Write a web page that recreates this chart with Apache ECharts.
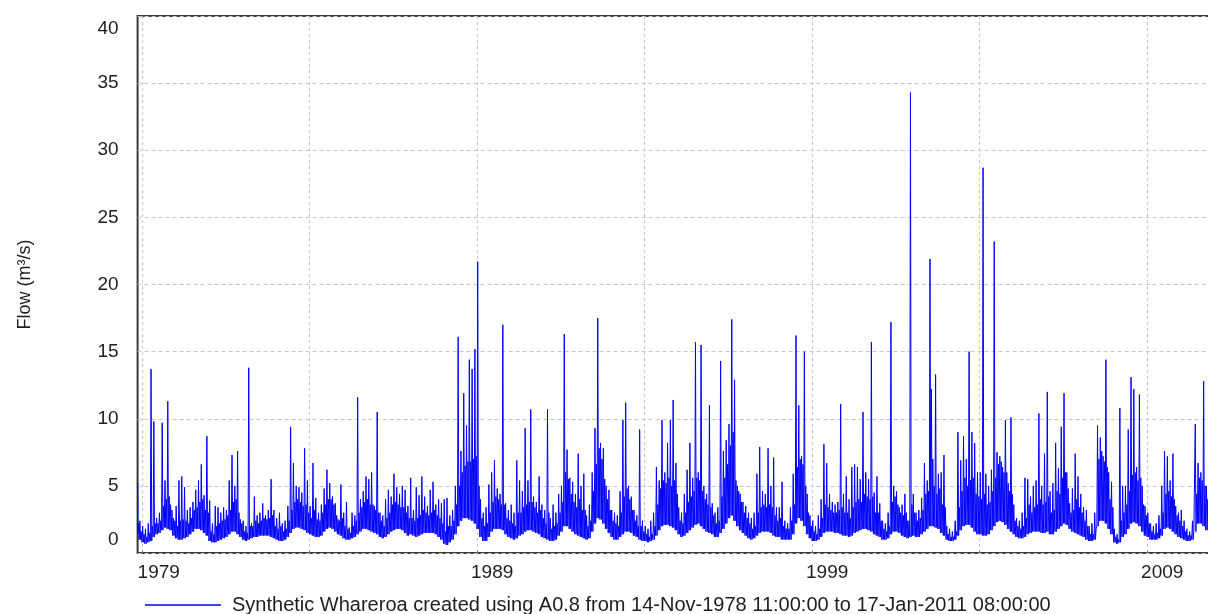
<!DOCTYPE html>
<html>
<head>
<meta charset="utf-8">
<title>Synthetic Whareroa flow</title>
<script src="https://cdn.jsdelivr.net/npm/echarts@6/dist/echarts.min.js"></script>
<style>
  html, body { margin: 0; padding: 0; background: #ffffff; overflow: hidden; }
  /* the record runs on a few pixels past the right edge of the page */
  #wrap { width: 1208px; height: 614px; overflow: hidden; }
  #chart { width: 1216px; height: 614px; }
</style>
</head>
<body>
<div id="wrap"><div id="chart"></div></div>
<script>
// Monthly flow summaries (m³/s): for each month a trough ("low"), a secondary
// rise ("mid") and the month's highest peak ("peak").
// Block A: Nov-1978 .. Dec-1988
const lowA = [
  1.4,1.0,
  0.8,0.7,0.8,0.9,1.2,1.4,1.5,1.7,1.9,1.8,1.7,1.3,
  1.1,1.0,1.0,1.1,1.2,1.4,1.6,1.8,1.8,1.7,1.5,1.3,
  0.9,0.8,0.8,0.9,1.0,1.1,1.2,1.4,1.6,1.6,1.4,1.2,
  1.0,0.9,1.0,1.1,1.2,1.2,1.3,1.3,1.3,1.3,1.2,1.1,
  1.0,0.9,0.9,1.0,1.2,1.5,1.8,1.9,1.9,1.8,1.7,1.5,
  1.4,1.3,1.2,1.2,1.3,1.6,1.8,1.9,1.8,1.6,1.4,1.3,
  1.1,1.0,1.0,1.1,1.2,1.4,1.6,1.8,1.8,1.7,1.6,1.5,
  1.4,1.2,1.1,1.2,1.4,1.6,1.7,1.8,1.8,1.7,1.5,1.3,
  1.4,1.3,1.2,1.3,1.4,1.5,1.5,1.5,1.5,1.4,1.2,1.0,
  0.7,0.6,0.8,1.0,1.4,2.0,2.4,2.6,2.6,2.5,2.4,2.2
];
const midA = [
  2.2,1.6,
  1.4,1.2,1.5,2.0,2.2,2.2,2.4,3.5,4.0,4.2,3.2,2.4,
  2.0,2.4,2.5,2.4,2.2,2.6,3.2,3.4,3.8,4.0,3.2,3.0,
  1.6,1.4,2.0,2.2,2.4,2.5,2.8,3.2,3.8,4.0,3.0,2.2,
  1.6,1.5,2.0,2.0,2.4,2.2,2.4,2.6,2.5,2.6,2.8,2.0,
  1.8,2.0,1.6,1.8,2.4,3.2,3.8,4.0,3.8,3.5,3.6,3.0,
  2.6,3.2,2.5,2.4,3.0,3.6,4.0,4.0,3.6,2.8,2.4,2.6,
  2.0,1.8,1.5,2.0,2.4,3.0,3.4,3.8,4.0,3.6,3.6,3.2,
  3.0,2.4,2.0,2.6,3.0,3.6,3.8,3.6,3.4,3.4,3.0,2.6,
  2.6,2.4,2.6,2.8,3.2,3.0,2.8,3.0,3.2,2.8,2.6,2.2,
  1.6,2.0,2.0,2.4,3.6,5.0,6.0,6.5,6.8,6.8,7.0,7.2
];
const peakA = [
  5.2,2.4,
  2.0,1.8,2.2,13.7,9.8,2.6,3.0,9.7,5.4,11.3,3.6,2.6,
  3.5,5.4,5.7,4.9,3.2,3.4,3.8,4.7,5.4,6.6,4.3,8.7,
  3.9,2.2,3.5,3.4,3.0,3.4,3.2,5.4,7.3,5.0,7.6,2.5,
  2.4,2.0,13.8,2.2,4.2,2.8,3.0,3.7,2.8,3.2,5.5,3.2,
  2.6,3.0,2.2,2.4,3.5,9.4,6.7,5.0,4.9,4.5,7.8,5.4,
  3.5,6.7,4.1,3.0,3.6,4.8,6.2,5.2,4.2,3.7,2.5,5.1,
  3.0,3.8,1.9,3.0,2.8,11.6,4.0,4.6,5.7,5.5,6.0,3.5,
  10.5,3.0,2.8,4.0,4.7,4.2,5.9,4.9,4.4,5.0,4.7,3.5,
  5.6,3.2,4.9,4.3,5.7,4.2,3.5,4.7,5.3,3.6,4.0,3.7,
  4.0,4.1,2.8,3.2,5.0,16.1,7.6,11.9,9.5,14.4,13.7,15.2
];

// Block B: Jan-1989 .. Dec-1999
const lowB = [
  1.8,1.2,0.9,0.9,1.2,1.6,1.8,1.8,1.8,1.7,1.4,1.2,
  1.1,1.0,1.1,1.3,1.4,1.6,1.7,1.7,1.6,1.5,1.4,1.2,
  1.1,1.0,0.9,0.9,1.0,1.3,1.6,2.0,2.0,1.8,1.6,1.4,
  1.3,1.2,1.1,1.0,1.1,1.6,2.2,2.6,2.5,2.2,1.8,1.5,
  1.2,1.0,1.0,1.2,1.4,1.6,1.6,1.5,1.3,1.2,1.0,0.9,
  0.9,0.8,0.9,1.0,1.3,1.7,2.0,2.1,2.1,2.0,1.9,1.7,
  1.4,1.2,1.3,1.5,1.7,1.9,2.1,2.2,2.0,1.8,1.6,1.5,
  1.4,1.2,1.2,1.5,1.8,2.2,2.6,2.8,2.4,2.0,1.7,1.5,
  1.3,1.1,1.0,1.1,1.3,1.5,1.6,1.6,1.6,1.5,1.3,1.2,
  1.2,1.0,1.0,1.0,1.0,1.4,2.2,2.6,2.4,2.0,1.4,1.1,
  0.9,0.9,1.0,1.2,1.5,1.6,1.6,1.6,1.5,1.5,1.4,1.3
];
const midB = [
  5.0,2.6,2.0,2.2,3.0,3.8,4.2,4.0,3.6,3.6,2.6,2.4,
  2.2,2.0,3.0,3.0,3.4,3.6,3.8,3.8,3.4,3.0,3.2,2.6,
  2.2,3.0,1.8,2.0,2.2,3.0,3.8,6.0,5.5,4.4,3.8,3.4,
  4.0,3.2,3.2,2.0,2.4,4.6,6.6,7.8,7.0,5.5,4.0,3.2,
  2.4,2.2,2.0,3.0,4.2,4.8,4.0,3.2,2.4,2.0,2.0,1.6,
  1.4,1.2,1.4,2.0,3.6,4.8,5.4,5.2,5.6,5.0,5.4,4.4,
  2.4,2.2,3.0,3.8,4.2,4.6,5.6,5.4,4.6,4.0,3.6,3.4,
  2.8,2.2,2.4,4.2,5.6,6.6,8.0,9.0,5.4,4.6,3.8,3.0,
  2.6,2.2,1.8,2.0,3.0,3.4,3.6,3.4,3.6,3.4,2.8,2.4,
  2.6,2.0,1.8,1.8,2.4,3.6,6.4,7.0,6.6,5.0,3.0,2.0,
  1.6,1.4,1.8,2.6,3.6,3.4,3.2,3.0,3.0,3.2,3.4,3.0
];
const peakB = [
  21.7,4.0,3.0,3.4,5.1,6.0,6.9,4.8,4.4,17.0,3.7,3.2,
  3.6,3.0,6.9,5.4,4.6,9.3,5.4,10.7,4.2,3.8,5.7,3.6,
  3.2,10.7,2.6,3.6,3.0,4.4,5.0,16.3,7.7,5.6,5.3,4.4,
  7.4,5.0,5.9,2.8,3.6,6.0,9.3,17.5,8.2,7.8,5.0,4.7,
  3.2,3.0,2.8,4.6,9.9,11.2,5.0,4.2,3.2,2.8,9.2,2.4,
  2.0,1.8,2.4,3.0,6.4,5.4,9.9,6.0,8.2,9.9,11.4,6.7,
  3.4,3.0,4.4,6.2,8.2,5.6,15.7,6.0,15.5,5.0,4.4,11.0,
  3.7,3.0,3.4,14.3,7.6,8.4,9.6,17.4,12.9,5.0,4.4,3.8,
  3.5,3.0,2.6,3.0,5.9,7.9,4.6,4.4,7.8,5.0,7.1,3.4,
  3.4,5.3,2.4,2.2,3.4,5.9,16.2,11.0,7.2,15.0,4.4,2.8,
  2.4,2.0,2.8,4.0,8.1,6.7,4.4,3.8,3.6,3.8,11.1,4.4
];

// Block C: Jan-2000 .. Jan-2011
const lowC = [
  1.3,1.2,1.3,1.5,1.6,1.7,1.8,1.8,1.7,1.6,1.4,1.3,
  1.2,1.0,1.0,1.1,1.4,1.6,1.6,1.5,1.3,1.2,1.1,1.2,
  1.3,1.2,1.2,1.4,1.6,1.8,2.0,2.0,1.9,1.8,1.5,1.3,
  1.0,0.9,0.9,1.0,1.3,1.7,2.0,2.1,2.1,1.9,1.6,1.4,
  1.4,1.3,1.3,1.4,1.7,2.0,2.3,2.4,2.3,2.1,1.8,1.6,
  1.4,1.2,1.1,1.1,1.2,1.4,1.5,1.6,1.6,1.6,1.5,1.5,
  1.6,1.4,1.4,1.6,1.8,2.0,2.2,2.1,1.8,1.6,1.5,1.4,
  1.3,1.2,1.0,0.9,0.9,1.0,2.0,2.4,2.4,2.2,1.8,1.4,
  0.8,0.7,0.8,1.2,1.4,1.8,2.2,2.3,2.2,2.0,1.6,1.3,
  1.2,1.0,1.0,1.0,1.1,1.3,1.8,1.9,1.8,1.6,1.4,1.2,
  1.1,1.0,0.9,0.9,1.0,1.6,2.2,2.2,2.0,1.7,1.4,1.2,
  1.0
];
const midC = [
  3.0,2.6,3.4,3.8,4.0,3.8,4.4,4.2,4.0,4.2,3.0,3.0,
  2.4,1.8,1.6,2.0,3.8,4.2,3.6,3.0,2.8,3.0,2.4,3.6,
  3.0,2.4,2.6,3.2,4.4,4.6,12.2,5.0,4.4,4.8,3.6,3.4,
  1.4,1.2,1.2,1.6,3.4,4.6,5.6,5.0,5.4,5.6,4.4,4.2,
  4.0,4.4,3.6,3.8,4.6,5.6,6.6,6.8,6.0,6.0,4.6,4.4,
  2.4,2.0,1.8,2.0,2.6,3.6,3.0,3.4,3.6,4.0,3.6,3.8,
  4.2,3.0,3.2,4.6,4.4,5.6,6.0,4.8,3.0,3.2,4.0,3.4,
  3.0,2.4,2.0,1.4,1.4,1.8,7.0,7.6,6.8,6.4,4.0,3.4,
  1.2,1.0,2.4,3.0,3.6,4.6,5.8,6.0,5.4,5.6,3.6,2.8,
  2.2,1.6,1.4,1.5,1.8,3.0,4.4,4.6,4.2,4.0,2.8,2.4,
  2.0,1.6,1.3,1.3,1.6,4.4,5.6,5.4,5.0,4.0,3.0,2.4,
  1.8
];
const peakC = [
  5.7,4.0,6.4,6.6,6.4,5.5,10.5,6.0,5.5,15.7,4.5,5.7,
  3.7,2.4,2.2,3.0,17.2,5.0,4.6,3.4,3.6,4.4,2.4,34.3,
  4.4,3.0,3.2,4.1,6.7,5.4,21.9,7.0,13.3,5.9,6.0,7.3,
  2.0,1.8,1.6,2.4,9.0,6.9,8.7,7.0,15.0,9.0,8.2,6.0,
  6.0,28.7,5.9,5.0,6.2,23.2,7.5,7.2,6.4,9.9,5.2,10.1,
  3.6,2.6,2.4,3.0,5.6,5.5,4.2,5.0,5.4,10.4,5.0,7.4,
  12.0,4.6,5.2,8.2,6.3,9.4,11.9,6.0,3.7,4.8,7.4,5.7,
  4.4,3.4,3.2,2.0,2.2,3.0,9.5,8.6,7.2,14.4,6.0,5.3,
  1.8,1.4,10.8,5.0,5.0,9.2,13.1,12.2,6.4,11.8,5.0,3.5,
  3.0,2.2,2.0,2.2,2.8,5.0,7.6,7.2,5.4,7.4,3.5,3.0,
  3.2,2.4,1.8,1.6,2.4,9.6,6.7,6.0,12.8,5.0,4.0,3.2,
  2.6
];

// Axis ticks and labels
const yTicks = [0, 5, 10, 15, 20, 25, 30, 35, 40];
const gridYears = [1979, 1984, 1989, 1994, 1999, 2004, 2009];
const labelYears = [1979, 1989, 1999, 2009];

const seriesName = 'Synthetic Whareroa created using A0.8 from 14-Nov-1978 11:00:00 to 17-Jan-2011 08:00:00';
const FONT = '"Liberation Sans", Arial, Helvetica, sans-serif';

// Record period as decimal years
const tStart = 1978 + (317 + 11 / 24) / 365;  // 14-Nov-1978 11:00
const tEnd = 2011 + (16 + 8 / 24) / 365;      // 17-Jan-2011 08:00
const firstMonth = 1978 * 12 + 10;            // November 1978

const lows = lowA.concat(lowB, lowC);
const mids = midA.concat(midB, midC);
const peaks = peakA.concat(peakB, peakC);

// Each month: trough, main peak, trough, secondary rise
const clampT = t => Math.min(tEnd, Math.max(tStart, t));
const flow = [];
for (let i = 0; i < lows.length; i++) {
  const t = (firstMonth + i) / 12;
  const m = 1 / 12;
  flow.push([clampT(t), lows[i]]);
  flow.push([clampT(t + 0.25 * m), peaks[i]]);
  flow.push([clampT(t + 0.5 * m), lows[i]]);
  flow.push([clampT(t + 0.75 * m), mids[i]]);
}

// Plot area
const plotLeft = 137.6;
const plotWidth = 1078;
const pxPerYear = plotWidth / (tEnd - tStart);
// x-axis labels sit slightly left of their grid line
const labelPos = labelYears.map(y => Math.max(tStart, y - 6 / pxPerYear));

const chart = echarts.init(document.getElementById('chart'), null, { renderer: 'canvas' });
chart.setOption({
  animation: false,
  backgroundColor: '#ffffff',
  textStyle: { fontFamily: FONT },
  grid: {
    left: plotLeft, width: plotWidth, top: 16, bottom: 61,
    outerBoundsMode: 'none',
    show: true, borderColor: '#3a3a3a', borderWidth: 2, backgroundColor: 'transparent'
  },
  legend: {
    left: 140, top: 590,
    icon: 'rect', itemWidth: 76, itemHeight: 1.4,
    textStyle: { fontSize: 20, color: '#1e1e1e', fontFamily: FONT, padding: [0, 0, 0, 6] },
    data: [seriesName]
  },
  xAxis: {
    type: 'value', min: tStart, max: tEnd,
    axisLine: { show: false },
    axisTick: { show: true, inside: true, length: 3, customValues: gridYears, lineStyle: { color: '#888888' } },
    splitLine: { show: true, lineStyle: { color: '#c6c6c6', width: 1, type: [3, 3] } },
    axisLabel: {
      customValues: labelPos, align: 'left', margin: 10,
      fontSize: 19, color: '#1e1e1e', fontFamily: FONT,
      formatter: v => String(Math.round(v))
    }
  },
  yAxis: {
    type: 'value', min: 0, max: 40, interval: 5,
    name: 'Flow (m³/s)', nameLocation: 'middle', nameGap: 104,
    nameTextStyle: { fontSize: 18, color: '#1e1e1e', fontFamily: FONT },
    axisLine: { show: false },
    axisTick: { show: false },
    splitLine: { show: true, lineStyle: { color: '#c6c6c6', width: 1, type: [4, 3] } },
    axisLabel: {
      customValues: yTicks, margin: 19, fontSize: 19, lineHeight: 26,
      color: '#1e1e1e', fontFamily: FONT,
      verticalAlignMinLabel: 'bottom', verticalAlignMaxLabel: 'top'
    }
  },
  series: [{
    name: seriesName,
    type: 'line',
    data: flow,
    showSymbol: false,
    symbol: 'none',
    clip: true,
    lineStyle: { color: '#0000ff', width: 1 },
    itemStyle: { color: '#0000ff' },
    emphasis: { disabled: true }
  }]
});
</script>
</body>
</html>
